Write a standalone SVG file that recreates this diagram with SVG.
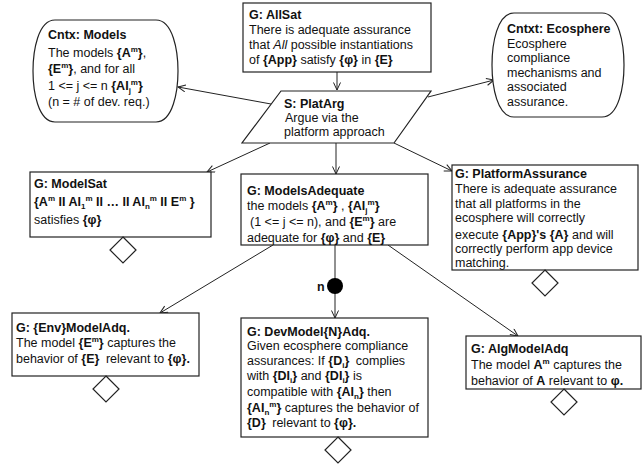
<svg xmlns="http://www.w3.org/2000/svg" width="643" height="473" viewBox="0 0 643 473">
<style>
text{font-family:"Liberation Sans",Arial,Helvetica,sans-serif;font-size:12.5px;fill:#111}
.b{font-weight:bold}
.i{font-style:italic}
.s{font-size:8px}
.box{fill:#fff;stroke:#222;stroke-width:1.2}
.edge{stroke:#222;stroke-width:1;fill:none}
</style>
<defs>
<marker id="arr" markerUnits="userSpaceOnUse" markerWidth="10" markerHeight="10" refX="8" refY="4" orient="auto">
<path d="M0.5,0.5 L8,4 L0.5,7.5" fill="none" stroke="#222" stroke-width="1"/>
</marker>
</defs>
<rect width="643" height="473" fill="#fff"/>

<g id="connectors">
<line class="edge" x1="337" y1="72" x2="337" y2="90" marker-end="url(#arr)"/>
<line class="edge" x1="271" y1="104" x2="178" y2="87" marker-end="url(#arr)"/>
<line class="edge" x1="428" y1="97" x2="494" y2="80" marker-end="url(#arr)"/>
<line class="edge" x1="270" y1="143" x2="207" y2="172" marker-end="url(#arr)"/>
<line class="edge" x1="336" y1="143" x2="336" y2="174" marker-end="url(#arr)"/>
<line class="edge" x1="394" y1="143" x2="452" y2="171" marker-end="url(#arr)"/>
<line class="edge" x1="273" y1="245" x2="160" y2="313" marker-end="url(#arr)"/>
<line class="edge" x1="335" y1="245" x2="335" y2="280"/>
<line class="edge" x1="335" y1="292" x2="335" y2="318" marker-end="url(#arr)"/>
<line class="edge" x1="388" y1="245" x2="518" y2="336" marker-end="url(#arr)"/>
<circle cx="335" cy="286" r="8" fill="#000"/>
<text class="b" x="317" y="291">n</text>
</g>

<g id="CntxModels">
<path class="box" d="M55,20 H156 C173,20 178,51 178,71 C178,91 173,122 156,122 H55 C38,122 33,91 33,71 C33,51 38,20 55,20 Z"/>
<text x="48" y="39" class="b">Cntx: Models</text>
<text x="48" y="57">The models <tspan class="b">{A<tspan class="s" dy="-5">m</tspan><tspan dy="5">}</tspan></tspan>,</text>
<text x="48" y="73"><tspan class="b">{E<tspan class="s" dy="-5">m</tspan><tspan dy="5">}</tspan></tspan>, and for all</text>
<text x="48" y="90">1 &lt;= j &lt;= n <tspan class="b">{AI<tspan class="s" dy="3">j</tspan><tspan class="s" dy="-8">m</tspan><tspan dy="5">}</tspan></tspan></text>
<text x="48" y="106">(n = # of dev. req.)</text>
</g>

<g id="AllSat">
<rect class="box" x="243" y="3" width="188" height="69"/>
<text x="249" y="19" class="b">G: AllSat</text>
<text x="249" y="34">There is adequate assurance</text>
<text x="249" y="49">that <tspan class="i">All</tspan> possible instantiations</text>
<text x="249" y="64">of <tspan class="b">{App}</tspan> satisfy <tspan class="b">{φ}</tspan> in <tspan class="b">{E}</tspan></text>
</g>

<g id="CntxtEcosphere">
<path class="box" d="M514,13 H602 C619,13 624,44 624,65 C624,86 619,117 602,117 H514 C497,117 492,86 492,65 C492,44 497,13 514,13 Z"/>
<text x="507" y="33" class="b">Cntxt: Ecosphere</text>
<text x="507" y="48">Ecosphere</text>
<text x="507" y="62">compliance</text>
<text x="507" y="77">mechanisms and</text>
<text x="507" y="91">associated</text>
<text x="507" y="106">assurance.</text>
</g>

<g id="PlatArg">
<polygon class="box" points="281,91 431,91 394,143 242,143"/>
<text x="284" y="108" class="b">S: PlatArg</text>
<text x="285" y="122">Argue via the</text>
<text x="284" y="136">platform approach</text>
</g>

<g id="ModelSat">
<rect class="box" x="30" y="172" width="181" height="65"/>
<text x="34" y="188" class="b">G: ModelSat</text>
<text x="34" y="206" class="b">{A<tspan class="s" dy="-5">m</tspan><tspan dy="5"> II AI</tspan><tspan class="s" dy="3">1</tspan><tspan class="s" dy="-8">m</tspan><tspan dy="5"> II … II AI</tspan><tspan class="s" dy="3">n</tspan><tspan class="s" dy="-8">m</tspan><tspan dy="5"> II E</tspan><tspan class="s" dy="-5">m</tspan><tspan dy="5"> }</tspan></text>
<text x="34" y="224">satisfies <tspan class="b">{φ}</tspan></text>
<polygon class="box" points="123,237 136,250 123,263 110,250"/>
</g>

<g id="ModelsAdequate">
<rect class="box" x="241" y="174" width="187" height="71"/>
<text x="247" y="195" class="b">G: ModelsAdequate</text>
<text x="247" y="210">the models <tspan class="b">{A<tspan class="s" dy="-5">m</tspan><tspan dy="5">}</tspan></tspan> , <tspan class="b">{AI<tspan class="s" dy="3">j</tspan><tspan class="s" dy="-8">m</tspan><tspan dy="5">}</tspan></tspan></text>
<text x="250" y="226">(1 &lt;= j &lt;= n), and <tspan class="b">{E<tspan class="s" dy="-5">m</tspan><tspan dy="5">}</tspan></tspan> are</text>
<text x="247" y="242">adequate for <tspan class="b">{φ}</tspan> and <tspan class="b">{E}</tspan></text>
</g>

<g id="PlatformAssurance">
<rect class="box" x="452" y="165" width="186" height="105"/>
<text x="455" y="178" class="b">G: PlatformAssurance</text>
<text x="455" y="193">There is adequate assurance</text>
<text x="455" y="208">that all platforms in the</text>
<text x="455" y="222">ecosphere will correctly</text>
<text x="455" y="239">execute <tspan class="b">{App}'s {A}</tspan> and will</text>
<text x="455" y="253">correctly perform app device</text>
<text x="455" y="267">matching.</text>
<polygon class="box" points="545,270 558,283 545,296 532,283"/>
</g>

<g id="EnvModelAdq">
<rect class="box" x="12" y="313" width="187" height="63"/>
<text x="16" y="332" class="b">G: {Env}ModelAdq.</text>
<text x="16" y="347">The model <tspan class="b">{E<tspan class="s" dy="-5">m</tspan><tspan dy="5">}</tspan></tspan> captures the</text>
<text x="16" y="363">behavior of <tspan class="b">{E}</tspan><tspan dx="3"> relevant to </tspan><tspan class="b">{φ}.</tspan></text>
<polygon class="box" points="106,376 119,389 106,402 93,389"/>
</g>

<g id="DevModelNAdq">
<rect class="box" x="241" y="318" width="187" height="119"/>
<text x="247" y="336" class="b">G: DevModel{N}Adq.</text>
<text x="247" y="350">Given ecosphere compliance</text>
<text x="247" y="365">assurances: If <tspan class="b">{D<tspan class="s" dy="3">i</tspan><tspan dy="-3">}</tspan></tspan><tspan dx="3"> complies</tspan></text>
<text x="247" y="380">with <tspan class="b">{DI<tspan class="s" dy="3">i</tspan><tspan dy="-3">}</tspan></tspan> and <tspan class="b">{DI<tspan class="s" dy="3">i</tspan><tspan dy="-3">}</tspan></tspan> is</text>
<text x="247" y="396">compatible with <tspan class="b">{AI<tspan class="s" dy="3">n</tspan><tspan dy="-3">}</tspan></tspan> then</text>
<text x="247" y="412"><tspan class="b">{AI<tspan class="s" dy="3">n</tspan><tspan class="s" dy="-8">m</tspan><tspan dy="5">}</tspan></tspan> captures the behavior of</text>
<text x="247" y="427"><tspan class="b">{D}</tspan><tspan dx="3"> relevant to </tspan><tspan class="b">{φ}.</tspan></text>
<polygon class="box" points="338,437 351,450 338,463 325,450"/>
</g>

<g id="AlgModelAdq">
<rect class="box" x="466" y="336" width="175" height="53"/>
<text x="471" y="353" class="b">G: AlgModelAdq</text>
<text x="471" y="369">The model <tspan class="b">A<tspan class="s" dy="-5">m</tspan></tspan><tspan dy="5"> captures the</tspan></text>
<text x="471" y="385">behavior of <tspan class="b">A</tspan> relevant to <tspan class="b">φ.</tspan></text>
<polygon class="box" points="564,389 577,402 564,415 551,402"/>
</g>
</svg>
